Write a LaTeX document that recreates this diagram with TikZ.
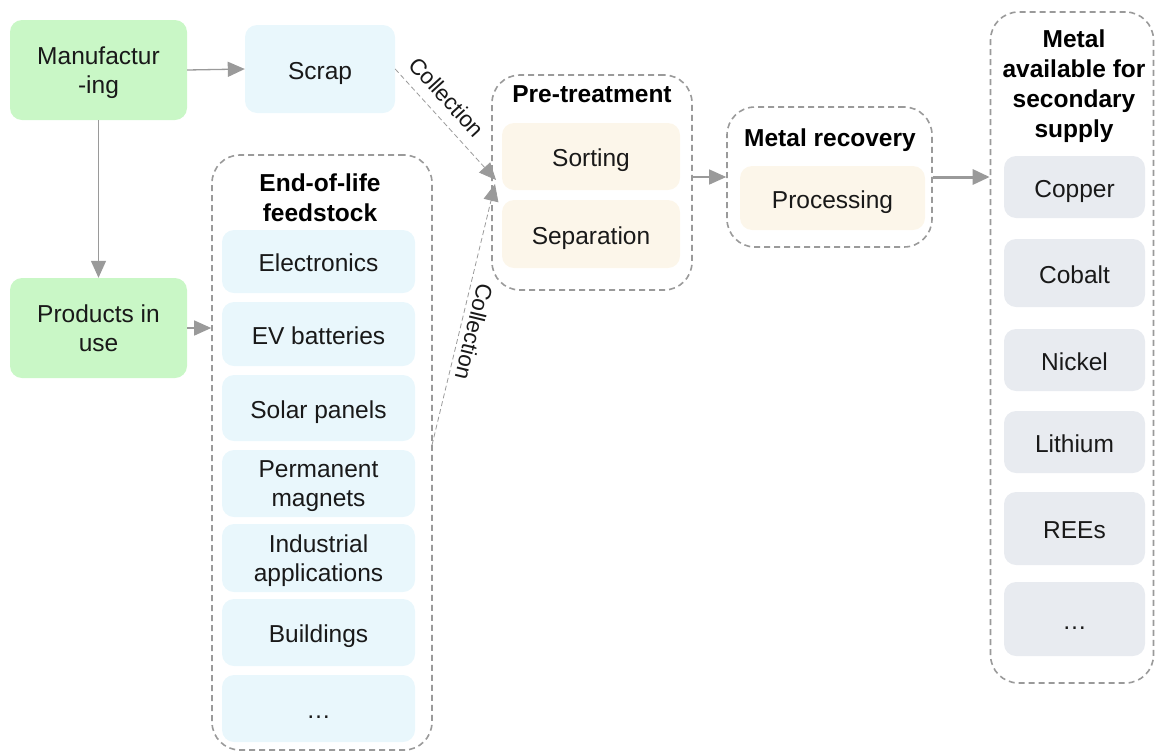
\documentclass[tikz,border=0pt]{standalone}
\usepackage{fontspec}
\setmainfont{Liberation Sans}
\usetikzlibrary{arrows.meta,calc}
\definecolor{grn}{HTML}{C9F7C6}
\definecolor{lblue}{HTML}{E9F7FC}
\definecolor{beige}{HTML}{FCF6EA}
\definecolor{lgray}{HTML}{E8EBF0}
\definecolor{ln}{HTML}{9A9A9A}
\tikzset{
  txt/.style={font=\fontsize{24.5}{29}\selectfont, align=center, text=black!90},
  ttl/.style={font=\fontsize{24.5}{30}\selectfont\bfseries, align=center, inner sep=0pt},
  box/.style={txt, rounded corners=12pt, inner sep=0pt, text depth=0pt},
  one/.style={text height=20pt, text depth=0pt},
  gbox/.style={box, fill=grn},
  bbox/.style={box, fill=lblue},
  obox/.style={box, fill=beige},
  mbox/.style={box, fill=lgray},
  cont/.style={draw=ln, dash pattern=on 6pt off 4pt, line width=1.6pt, rounded corners=28pt, inner sep=0pt},
  arr/.style={draw=ln, line width=1.3pt, -{Triangle[length=17pt,width=15pt]}},
  darr/.style={arr, line width=0.8pt, dash pattern=on 5pt off 3pt},
  lbl/.style={font=\fontsize{22.5}{24}\selectfont, text=black!90, inner sep=0pt}
}
\begin{document}
\begin{tikzpicture}[x=1pt,y=-1pt]
\useasboundingbox (0,0) rectangle (1155,753);
% left nodes
\node[gbox, minimum width=177pt, minimum height=100pt] (manu) at (98.5,70) {Manufactur\\-ing};
\node[bbox, one, minimum width=150pt, minimum height=88pt] (scrap) at (320,69) {Scrap};
\node[gbox, minimum width=177pt, minimum height=100pt] (prod) at (98.5,328) {Products in\\use};
% EOL container
\node[cont, minimum width=220pt, minimum height=595pt] (eol) at (322,452.5) {};
\node[ttl] (eolT) at (320,198) {End-of-life\\feedstock};
\node[bbox, one, minimum width=193pt, minimum height=63pt] (e1) at (318.5,261.5) {Electronics};
\node[bbox, one, minimum width=193pt, minimum height=64pt] (e2) at (318.5,334) {EV batteries};
\node[bbox, one, minimum width=193pt, minimum height=66pt] (e3) at (318.5,408) {Solar panels};
\node[bbox, minimum width=193pt, minimum height=67pt] (e4) at (318.5,483.5) {Permanent\\magnets};
\node[bbox, minimum width=193pt, minimum height=68pt] (e5) at (318.5,558) {Industrial\\applications};
\node[bbox, one, minimum width=193pt, minimum height=67pt] (e6) at (318.5,632.5) {Buildings};
\node[bbox, one, minimum width=193pt, minimum height=67pt] (e7) at (318.5,708.5) {\dots};
% Pre-treatment
\node[cont, minimum width=200pt, minimum height=215pt] (pre) at (592,182.5) {};
\node[ttl, anchor=base] (preT) at (592,102) {Pre-treatment};
\node[obox, one, minimum width=178pt, minimum height=67pt] (sort) at (591,156.5) {Sorting};
\node[obox, one, minimum width=178pt, minimum height=68pt] (sep) at (591,234) {Separation};
% Metal recovery
\node[cont, minimum width=205pt, minimum height=140pt] (rec) at (829.5,177) {};
\node[ttl, anchor=base] (recT) at (830,146) {Metal recovery};
\node[obox, one, minimum width=185pt, minimum height=64pt] (proc) at (832.5,198) {Processing};
% Metal container
\node[cont, minimum width=163pt, minimum height=671pt] (metal) at (1072,347.5) {};
\node[ttl] (metT) at (1074,86) {Metal\\available for\\secondary\\supply};
\node[mbox, one, minimum width=141pt, minimum height=62pt] (m1) at (1074.5,187) {Copper};
\node[mbox, one, minimum width=141pt, minimum height=68pt] (m2) at (1074.5,273) {Cobalt};
\node[mbox, one, minimum width=141pt, minimum height=62pt] (m3) at (1074.5,360) {Nickel};
\node[mbox, one, minimum width=141pt, minimum height=62pt] (m4) at (1074.5,442) {Lithium};
\node[mbox, one, minimum width=141pt, minimum height=73pt] (m5) at (1074.5,528.5) {REEs};
\node[mbox, one, minimum width=141pt, minimum height=74pt] (m6) at (1074.5,619) {\dots};
% connectors
\coordinate (t1) at (496,180);
\coordinate (t2) at (495,184);
\coordinate (s2) at (432,445);
\draw[arr] (manu.east) -- (scrap.west);
\draw[arr] (manu.south) -- (prod.north);
\draw[arr] (prod.east) -- (prod.east -| eol.west);
\draw[darr] (scrap.east) -- (t1);
\draw[darr] (s2) -- (t2);
\draw[arr] (pre.east |- rec.west) -- (rec.west);
\draw[arr, line width=3pt] (rec.east) -- (rec.east -| metal.west);
% labels
\node[lbl, rotate=-47.5] (c1) at (447,97) {Collection};
\node[lbl, rotate=-103.6] (c2) at (474,332) {Collection};
\end{tikzpicture}
\end{document}
